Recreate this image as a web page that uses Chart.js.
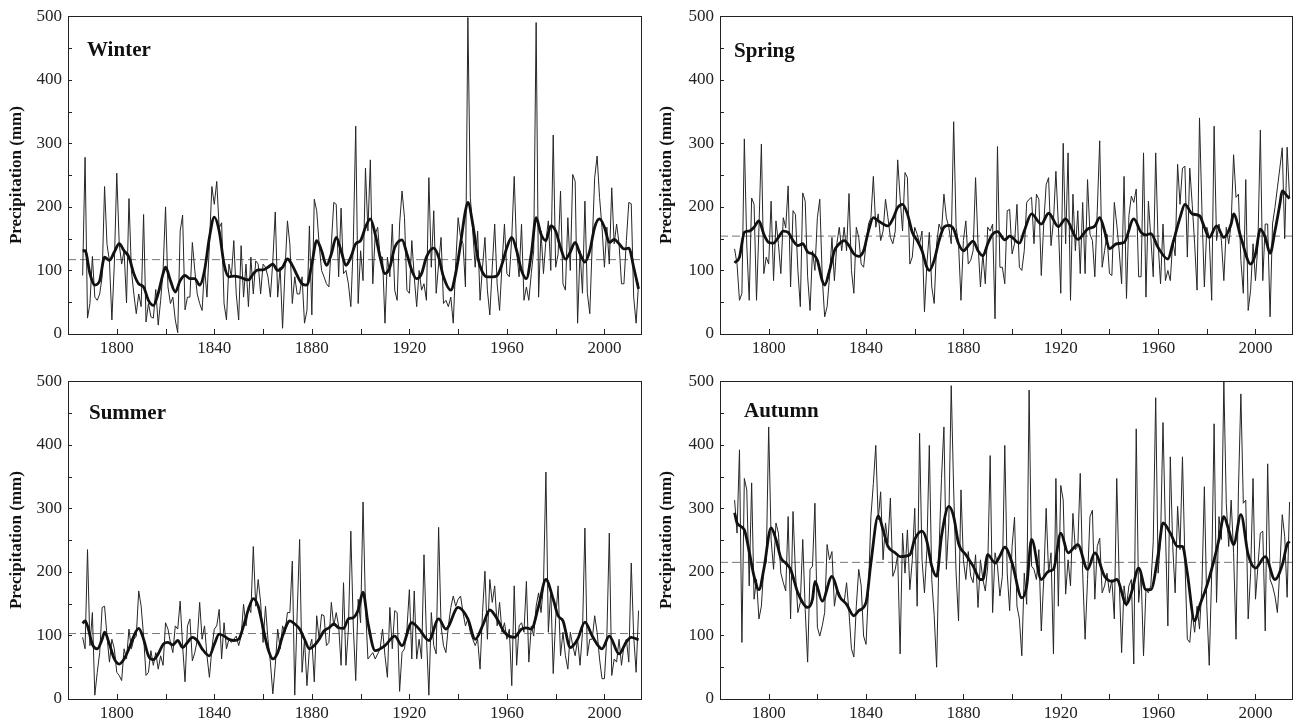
<!DOCTYPE html>
<html>
<head>
<meta charset="utf-8">
<title>Seasonal precipitation</title>
<script src="https://cdn.jsdelivr.net/npm/chart.js@4.4.1/dist/chart.umd.min.js"></script>
<style>
    body { margin: 0; background: #fff; width: 1296px; height: 724px; position: relative; overflow: hidden; }
    canvas { position: absolute; }
</style>
</head>
<body>
<canvas id="winter" width="648" height="362" style="left:0px;top:0px"></canvas>
<canvas id="spring" width="646" height="362" style="left:650px;top:0px"></canvas>
<canvas id="summer" width="648" height="359" style="left:0px;top:365px"></canvas>
<canvas id="autumn" width="646" height="359" style="left:650px;top:365px"></canvas>
<script>
// yearly series start in 1786
const startYear = 1786;
const xMin = 1780;
const xMax = 2015;
const xTickValues = [1800, 1820, 1840, 1860, 1880, 1900, 1920, 1940, 1960, 1980, 2000];
const xLabelValues = [1800, 1840, 1880, 1920, 1960, 2000];

const winterValues = [
    92, 278, 25, 48, 122, 58, 53, 63, 90, 232,
    141, 115, 22, 110, 253, 142, 110, 131, 49, 213,
    100, 63, 32, 63, 43, 188, 19, 48, 27, 25,
    70, 14, 53, 100, 200, 74, 48, 58, 22, 2,
    162, 187, 38, 58, 58, 144, 100, 63, 48, 37,
    105, 58, 141, 232, 204, 240, 167, 175, 48, 22,
    110, 90, 147, 63, 22, 139, 58, 110, 43, 121,
    63, 115, 110, 63, 110, 105, 90, 58, 115, 192,
    58, 105, 9, 100, 178, 141, 48, 90, 63, 63,
    90, 17, 37, 170, 30, 212, 194, 141, 100, 90,
    79, 74, 141, 207, 204, 90, 198, 95, 100, 79,
    43, 141, 327, 48, 131, 84, 261, 162, 274, 79,
    157, 168, 121, 121, 17, 121, 90, 173, 69, 53,
    173, 225, 183, 69, 64, 147, 90, 43, 100, 69,
    79, 53, 246, 105, 194, 64, 110, 152, 48, 53,
    43, 58, 17, 110, 183, 152, 142, 74, 498, 215,
    162, 105, 162, 53, 105, 152, 69, 30, 105, 173,
    79, 37, 110, 173, 95, 90, 152, 248, 131, 90,
    173, 53, 74, 53, 95, 131, 490, 58, 162, 95,
    147, 178, 100, 313, 105, 126, 225, 79, 69, 183,
    100, 251, 240, 17, 131, 64, 209, 64, 32, 142,
    246, 280, 215, 168, 105, 168, 110, 230, 142, 173,
    142, 79, 79, 147, 207, 205, 58, 17, 80
];
const winterSmoothYears = [1786, 1787, 1789, 1791, 1793, 1795, 1797, 1799, 1801, 1803, 1805, 1807, 1809, 1811, 1813, 1815, 1817, 1819, 1820, 1822, 1824, 1826, 1828, 1830, 1832, 1834, 1836, 1838, 1840, 1842, 1844, 1846, 1848, 1850, 1852, 1854, 1856, 1858, 1860, 1862, 1864, 1866, 1868, 1870, 1872, 1874, 1876, 1878, 1880, 1882, 1884, 1886, 1888, 1890, 1892, 1894, 1896, 1898, 1900, 1902, 1904, 1906, 1908, 1910, 1912, 1914, 1917, 1919, 1921, 1923, 1925, 1927, 1930, 1932, 1934, 1937, 1939, 1941, 1943, 1944, 1946, 1948, 1950, 1952, 1954, 1956, 1958, 1960, 1962, 1964, 1966, 1968, 1970, 1972, 1974, 1976, 1978, 1980, 1982, 1984, 1986, 1988, 1990, 1992, 1994, 1996, 1998, 2000, 2002, 2004, 2006, 2008, 2010, 2012, 2014];
const winterSmoothValues = [131, 131, 95, 77, 84, 121, 116, 129, 142, 131, 121, 95, 79, 74, 53, 45, 64, 95, 105, 84, 66, 84, 92, 87, 87, 77, 100, 152, 184, 162, 110, 90, 91, 90, 87, 85, 95, 101, 101, 105, 110, 100, 105, 118, 108, 92, 79, 77, 110, 147, 131, 108, 126, 152, 131, 108, 121, 142, 147, 168, 181, 157, 121, 95, 105, 136, 148, 126, 100, 87, 95, 121, 135, 121, 90, 69, 95, 142, 194, 207, 173, 121, 97, 90, 90, 92, 110, 136, 152, 131, 100, 87, 126, 183, 157, 147, 170, 162, 136, 118, 129, 144, 126, 113, 131, 168, 181, 168, 144, 149, 142, 134, 135, 105, 71];
const winterMean = 117;

const springValues = [
    134, 110, 53, 64, 307, 140, 53, 214, 204, 53,
    167, 299, 95, 121, 110, 209, 84, 178, 142, 95,
    183, 167, 233, 74, 194, 188, 100, 43, 222, 209,
    90, 37, 131, 100, 183, 212, 90, 27, 43, 90,
    152, 84, 142, 168, 131, 168, 131, 221, 100, 64,
    168, 152, 110, 105, 142, 173, 183, 248, 168, 189,
    147, 162, 212, 183, 152, 142, 162, 274, 214, 162,
    254, 246, 110, 121, 168, 157, 142, 162, 35, 110,
    160, 74, 48, 142, 173, 162, 220, 183, 168, 142,
    334, 168, 142, 53, 147, 178, 110, 116, 131, 246,
    142, 74, 126, 79, 168, 162, 173, 24, 295, 105,
    105, 79, 194, 196, 126, 142, 204, 105, 100, 131,
    207, 212, 215, 142, 220, 212, 92, 173, 235, 246,
    139, 178, 256, 173, 64, 300, 142, 285, 53, 220,
    131, 194, 95, 207, 95, 243, 157, 147, 90, 194,
    304, 105, 131, 157, 95, 92, 207, 173, 131, 79,
    248, 56, 186, 217, 207, 228, 90, 90, 285, 58,
    209, 152, 90, 285, 142, 79, 173, 84, 100, 84,
    147, 123, 267, 204, 261, 264, 121, 261, 204, 142,
    69, 340, 194, 74, 168, 152, 53, 327, 147, 173,
    147, 84, 168, 142, 173, 282, 215, 220, 116, 64,
    243, 37, 69, 142, 84, 142, 321, 84, 173, 173,
    27, 173, 199, 230, 261, 293, 150, 294, 214
];
const springSmoothYears = [1786, 1788, 1790, 1792, 1794, 1796, 1798, 1800, 1802, 1804, 1806, 1808, 1810, 1812, 1814, 1816, 1818, 1820, 1822, 1823, 1825, 1827, 1829, 1831, 1833, 1835, 1837, 1839, 1841, 1843, 1845, 1847, 1849, 1851, 1853, 1855, 1857, 1859, 1861, 1863, 1865, 1866, 1868, 1870, 1872, 1874, 1876, 1878, 1880, 1882, 1884, 1886, 1888, 1890, 1892, 1894, 1897, 1899, 1903, 1905, 1908, 1912, 1915, 1919, 1922, 1927, 1931, 1934, 1936, 1938, 1940, 1943, 1946, 1950, 1953, 1955, 1957, 1960, 1964, 1966, 1969, 1971, 1974, 1977, 1979, 1981, 1984, 1987, 1990, 1991, 1994, 1998, 2000, 2002, 2004, 2006, 2008, 2010, 2011, 2013, 2014];
const springSmoothValues = [112, 121, 160, 162, 168, 178, 157, 144, 143, 152, 162, 160, 147, 139, 142, 129, 126, 116, 84, 77, 100, 131, 142, 147, 139, 126, 122, 131, 162, 183, 178, 173, 170, 181, 199, 204, 189, 160, 147, 131, 105, 100, 116, 147, 168, 171, 165, 142, 131, 139, 146, 131, 123, 142, 157, 161, 148, 154, 143, 162, 189, 173, 190, 169, 181, 149, 165, 170, 183, 162, 134, 142, 144, 181, 160, 156, 158, 136, 118, 142, 183, 204, 189, 186, 168, 152, 170, 152, 173, 189, 152, 110, 126, 165, 152, 127, 162, 204, 225, 217, 213];
const springMean = 154;

const summerValues = [
    97, 79, 235, 84, 136, 6, 42, 73, 144, 146,
    99, 58, 94, 79, 42, 37, 29, 79, 63, 110,
    79, 94, 99, 170, 146, 99, 37, 42, 76, 53,
    73, 47, 68, 53, 120, 110, 89, 73, 115, 110,
    154, 84, 27, 115, 126, 60, 73, 92, 152, 94,
    115, 68, 34, 79, 110, 115, 141, 63, 120, 79,
    94, 89, 94, 99, 84, 99, 149, 115, 146, 136,
    240, 146, 188, 152, 89, 146, 94, 58, 8, 53,
    110, 79, 115, 105, 136, 136, 217, 6, 136, 251,
    42, 94, 21, 79, 94, 27, 131, 94, 133, 131,
    84, 89, 152, 115, 136, 115, 53, 183, 53, 110,
    264, 115, 29, 157, 120, 310, 146, 63, 68, 73,
    63, 71, 79, 110, 68, 34, 144, 79, 139, 136,
    12, 73, 79, 110, 172, 63, 170, 63, 94, 63,
    227, 99, 6, 136, 84, 71, 270, 115, 84, 73,
    115, 144, 162, 146, 157, 162, 136, 115, 126, 105,
    94, 84, 94, 47, 136, 201, 94, 188, 152, 178,
    115, 152, 105, 120, 94, 110, 21, 178, 53, 115,
    120, 105, 185, 58, 115, 99, 146, 167, 136, 178,
    357, 105, 172, 40, 126, 178, 68, 105, 68, 47,
    105, 84, 68, 94, 53, 105, 269, 68, 94, 94,
    131, 105, 63, 32, 32, 99, 261, 37, 63, 58,
    94, 53, 84, 94, 58, 214, 99, 42, 139
];
const summerSmoothYears = [1786, 1787, 1788, 1790, 1792, 1794, 1795, 1797, 1799, 1801, 1803, 1805, 1807, 1809, 1811, 1813, 1815, 1817, 1819, 1821, 1823, 1825, 1827, 1829, 1831, 1833, 1835, 1838, 1840, 1842, 1844, 1846, 1848, 1850, 1852, 1854, 1856, 1858, 1860, 1862, 1864, 1866, 1868, 1871, 1873, 1875, 1877, 1879, 1881, 1883, 1885, 1887, 1889, 1891, 1893, 1895, 1897, 1899, 1901, 1903, 1906, 1910, 1914, 1917, 1921, 1924, 1928, 1932, 1935, 1940, 1944, 1947, 1950, 1953, 1956, 1959, 1963, 1966, 1968, 1970, 1973, 1976, 1979, 1981, 1983, 1986, 1989, 1992, 1995, 1999, 2002, 2006, 2009, 2011, 2014];
const summerSmoothValues = [119, 123, 115, 86, 79, 94, 105, 86, 63, 55, 63, 79, 99, 111, 94, 68, 62, 71, 86, 89, 85, 92, 81, 89, 97, 92, 79, 68, 86, 102, 99, 94, 92, 94, 115, 141, 158, 146, 112, 79, 63, 73, 99, 123, 118, 110, 94, 79, 84, 94, 107, 112, 118, 112, 111, 126, 128, 140, 168, 120, 76, 84, 99, 84, 120, 110, 92, 126, 110, 144, 126, 94, 115, 140, 126, 105, 97, 110, 112, 110, 146, 188, 157, 131, 123, 81, 94, 121, 99, 79, 99, 71, 90, 97, 93];
const summerMean = 103;

const autumnValues = [
    313, 261, 392, 89, 347, 329, 178, 340, 157, 188,
    126, 146, 209, 214, 428, 251, 204, 277, 261, 198,
    183, 170, 287, 126, 295, 198, 136, 152, 251, 141,
    58, 204, 209, 308, 113, 99, 115, 136, 243, 219,
    232, 146, 172, 167, 157, 152, 183, 136, 79, 66,
    146, 204, 178, 99, 86, 172, 287, 339, 399, 282,
    326, 219, 277, 245, 316, 193, 204, 227, 71, 261,
    198, 266, 172, 219, 300, 146, 418, 219, 167, 235,
    399, 188, 131, 50, 235, 347, 428, 204, 277, 493,
    329, 198, 123, 329, 219, 188, 232, 193, 183, 227,
    144, 219, 188, 170, 209, 383, 136, 230, 209, 162,
    193, 399, 198, 139, 240, 286, 146, 126, 68, 198,
    149, 486, 209, 204, 188, 235, 107, 188, 300, 198,
    230, 71, 347, 146, 336, 313, 165, 219, 178, 292,
    235, 240, 355, 198, 94, 188, 287, 297, 157, 240,
    253, 167, 178, 198, 167, 188, 126, 347, 188, 73,
    178, 146, 178, 188, 55, 425, 152, 198, 68, 172,
    167, 178, 248, 474, 198, 251, 435, 266, 115, 381,
    240, 167, 303, 235, 381, 219, 94, 89, 136, 105,
    146, 110, 178, 334, 146, 53, 198, 433, 152, 287,
    251, 499, 308, 240, 313, 230, 94, 329, 480, 308,
    313, 126, 198, 347, 157, 209, 261, 264, 107, 370,
    188, 178, 162, 136, 204, 290, 256, 160, 310
];
const autumnSmoothYears = [1786, 1787, 1790, 1792, 1794, 1796, 1798, 1801, 1803, 1805, 1807, 1809, 1812, 1816, 1818, 1819, 1822, 1826, 1829, 1832, 1835, 1837, 1840, 1842, 1845, 1847, 1849, 1852, 1854, 1858, 1860, 1863, 1865, 1867, 1869, 1871, 1874, 1876, 1878, 1881, 1884, 1887, 1888, 1890, 1893, 1895, 1897, 1900, 1904, 1906, 1908, 1912, 1915, 1917, 1920, 1923, 1927, 1931, 1934, 1938, 1941, 1943, 1947, 1949, 1952, 1955, 1957, 1960, 1962, 1965, 1968, 1970, 1972, 1975, 1977, 1980, 1983, 1985, 1987, 1989, 1991, 1994, 1997, 2000, 2004, 2008, 2011, 2013, 2014];
const autumnSmoothValues = [293, 277, 266, 232, 193, 172, 204, 269, 251, 222, 214, 204, 167, 144, 157, 185, 154, 193, 162, 149, 131, 139, 152, 214, 288, 266, 240, 230, 224, 227, 251, 264, 248, 209, 193, 256, 303, 287, 245, 227, 209, 188, 188, 227, 214, 225, 239, 214, 159, 178, 251, 188, 201, 204, 261, 230, 243, 204, 230, 193, 185, 188, 149, 167, 206, 172, 172, 227, 277, 261, 240, 240, 198, 123, 146, 178, 219, 251, 287, 266, 243, 290, 227, 206, 224, 188, 211, 243, 248];
const autumnMean = 215;

const serif = '"Liberation Serif", "Times New Roman", serif';

// frame, inward ticks and the season name
const framePlugin = {
    id: 'frame',
    afterDraw(chart, args, opts) {
        const ctx = chart.ctx;
        const a = chart.chartArea;
        ctx.save();
        ctx.strokeStyle = '#222';
        ctx.lineWidth = 1;
        ctx.strokeRect(Math.round(a.left) + 0.5, Math.round(a.top) + 0.5, Math.round(a.right - a.left), Math.round(a.bottom - a.top));
        ctx.beginPath();
        chart.scales.x.ticks.forEach(t => {
            const px = Math.round(chart.scales.x.getPixelForValue(t.value)) + 0.5;
            ctx.moveTo(px, a.bottom);
            ctx.lineTo(px, a.bottom - 5);
        });
        chart.scales.y.ticks.forEach(t => {
            const py = Math.round(chart.scales.y.getPixelForValue(t.value)) + 0.5;
            ctx.moveTo(a.left, py);
            ctx.lineTo(a.left + 4, py);
        });
        ctx.stroke();
        ctx.fillStyle = '#111';
        ctx.font = 'bold 21px ' + serif;
        ctx.textBaseline = 'alphabetic';
        ctx.fillText(opts.title, a.left + opts.dx, a.top + opts.dy);
        ctx.restore();
    }
};

function makeChart(id, title, values, smoothYears, smoothValues, mean, box) {
    const yearly = values.map((v, i) => ({ x: startYear + i, y: v }));
    const smooth = smoothYears.map((yr, i) => ({ x: yr, y: smoothValues[i] }));
    const meanLine = [{ x: xMin, y: mean }, { x: xMax, y: mean }];

    return new Chart(document.getElementById(id), {
        type: 'line',
        data: {
            datasets: [{
                data: smooth,
                borderColor: '#111',
                borderWidth: 2.8,
                pointRadius: 0,
                cubicInterpolationMode: 'monotone'
            }, {
                data: yearly,
                borderColor: '#262626',
                borderWidth: 1,
                pointRadius: 0,
                tension: 0
            }, {
                data: meanLine,
                borderColor: '#666',
                borderWidth: 0.9,
                borderDash: [8, 4],
                pointRadius: 0
            }]
        },
        options: {
            responsive: false,
            animation: false,
            events: [],
            layout: { padding: { top: 14, right: box.right, left: 0, bottom: 0 } },
            plugins: {
                legend: { display: false },
                tooltip: { enabled: false },
                frame: { title: title, dx: box.dx, dy: box.dy }
            },
            scales: {
                x: {
                    type: 'linear',
                    min: xMin,
                    max: xMax,
                    grid: { display: false, drawTicks: false },
                    border: { display: false },
                    afterBuildTicks: scale => {
                        scale.ticks = xTickValues.map(v => ({ value: v }));
                    },
                    afterFit: scale => { scale.height = box.xh; },
                    ticks: {
                        autoSkip: false,
                        maxRotation: 0,
                        padding: 4,
                        color: '#222',
                        font: { family: serif, size: 17 },
                        callback: v => (xLabelValues.includes(v) ? String(v) : '')
                    }
                },
                y: {
                    min: 0,
                    max: 500,
                    grid: { display: false, drawTicks: false },
                    border: { display: false },
                    afterFit: scale => { scale.width = box.yw; },
                    title: {
                        display: true,
                        text: 'Precipitation (mm)',
                        color: '#111',
                        font: { family: serif, size: 17, weight: 'bold' },
                        padding: { top: 6, bottom: 0 }
                    },
                    ticks: {
                        stepSize: 50,
                        padding: 6,
                        color: '#222',
                        font: { family: serif, size: 17 },
                        callback: v => (v % 100 === 0 ? String(v) : '')
                    }
                }
            }
        },
        plugins: [framePlugin]
    });
}

makeChart('winter', 'Winter', winterValues, winterSmoothYears, winterSmoothValues, winterMean,
    { right: 7, yw: 68, xh: 28, dx: 19, dy: 40 });
makeChart('spring', 'Spring', springValues, springSmoothYears, springSmoothValues, springMean,
    { right: 4, yw: 70, xh: 28, dx: 14, dy: 41 });
makeChart('summer', 'Summer', summerValues, summerSmoothYears, summerSmoothValues, summerMean,
    { right: 7, yw: 68, xh: 25, dx: 21, dy: 38 });
makeChart('autumn', 'Autumn', autumnValues, autumnSmoothYears, autumnSmoothValues, autumnMean,
    { right: 4, yw: 70, xh: 25, dx: 24, dy: 36 });
</script>
</body>
</html>
